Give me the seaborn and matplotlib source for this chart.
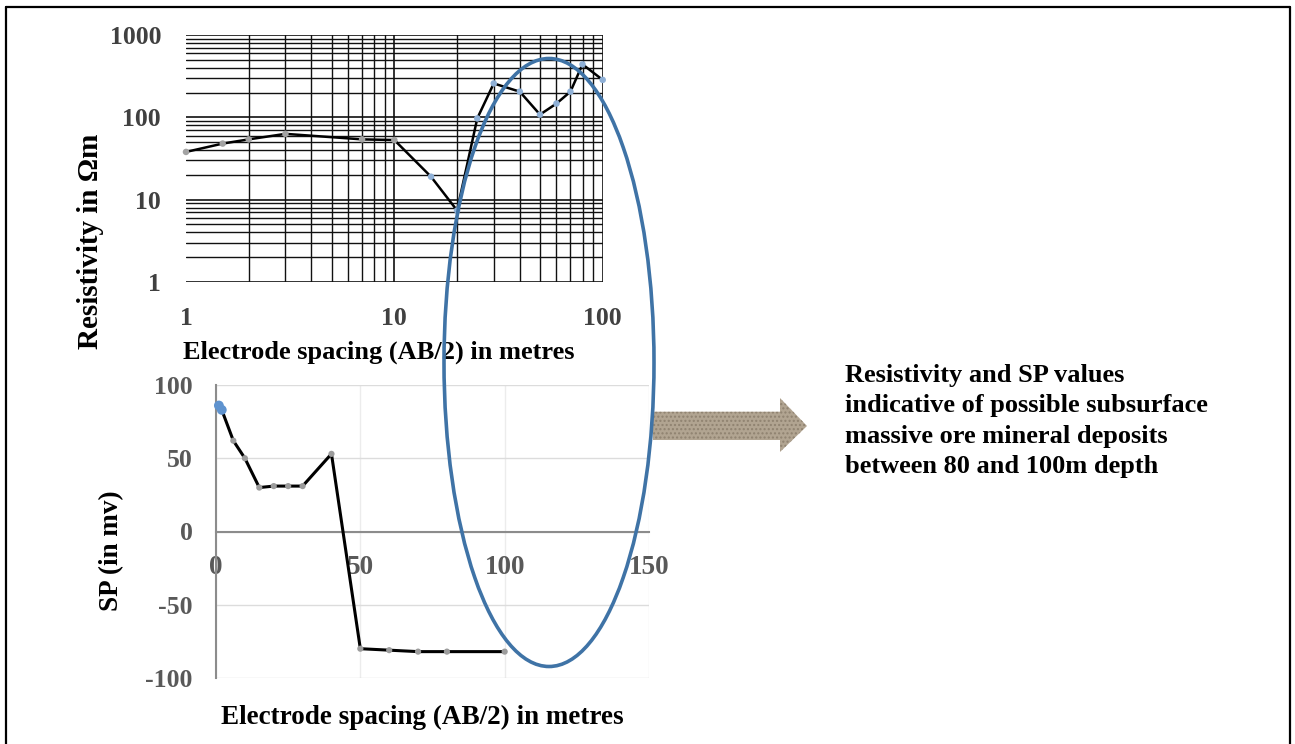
import numpy as np
import matplotlib
matplotlib.use("Agg")
import matplotlib.pyplot as plt
import matplotlib.patches as mpatches
from matplotlib.lines import Line2D
from matplotlib.ticker import LogLocator, NullFormatter
import seaborn as sns

# ---------------- data ----------------
res_x = [1, 1.5, 2, 3, 7, 10, 15, 20, 25, 30, 40, 50, 60, 70, 80, 100]
res_y = [38, 48, 54, 63, 54, 53, 19, 7.4, 97, 258, 205, 108, 147, 205, 440, 285]
res_xticks = [1, 10, 100]
res_yticks = [1, 10, 100, 1000]

sp_x = [1, 2, 6, 10, 15, 20, 25, 30, 40, 50, 60, 70, 80, 100]
sp_y = [86, 83, 62, 50, 30, 31, 31, 31, 53, -80, -81, -82, -82, -82]
sp_xticks = [0, 50, 100, 150]
sp_yticks = [-100, -50, 0, 50, 100]

res_ylabel = "Resistivity in Ωm"
sp_ylabel = "SP (in mv)"
xlabel = "Electrode spacing (AB/2) in metres"
note = ("Resistivity and SP values\n"
        "indicative of possible subsurface\n"
        "massive ore mineral deposits\n"
        "between 80 and 100m depth")

# ---------------- style ----------------
sns.set_theme(style="white")
plt.rcParams["font.family"] = ["Liberation Serif", "DejaVu Serif"]
plt.rcParams["font.weight"] = "bold"

W, H = 1295, 744
fig = plt.figure(figsize=(W / 100, H / 100), dpi=100)
fig.patch.set_facecolor("white")

def fx(px):
    return px / W

def fy(py):
    return 1 - py / H

# ---------------- top: resistivity (log-log) ----------------
ax1 = fig.add_axes([fx(186), fy(282), fx(602.7) - fx(186), fy(35) - fy(282)])
ax1.set_xscale("log")
ax1.set_yscale("log")
ax1.set_xlim(1, 100)
ax1.set_ylim(1, 1000)
sns.lineplot(x=res_x, y=res_y, ax=ax1, color="black", lw=1.8,
             estimator=None, sort=False, zorder=3)
sns.scatterplot(x=res_x[:6], y=res_y[:6], ax=ax1, color="#a3a3a3", s=22,
                edgecolor="none", zorder=4, clip_on=False)
sns.scatterplot(x=res_x[6:], y=res_y[6:], ax=ax1, color="#8fb0d6", s=22,
                edgecolor="none", zorder=4, clip_on=False)
ax1.set_xticks(res_xticks)
ax1.set_xticklabels([str(v) for v in res_xticks])
ax1.set_yticks(res_yticks)
ax1.set_yticklabels([str(v) for v in res_yticks])
ax1.xaxis.set_minor_locator(LogLocator(base=10, subs=range(2, 10)))
ax1.yaxis.set_minor_locator(LogLocator(base=10, subs=range(2, 10)))
ax1.xaxis.set_minor_formatter(NullFormatter())
ax1.yaxis.set_minor_formatter(NullFormatter())
ax1.grid(True, which="major", color="#111111", lw=1.2)
ax1.grid(True, which="minor", color="#111111", lw=1.0)
for s in ax1.spines.values():
    s.set_visible(False)
ax1.tick_params(axis="both", which="both", length=0)
ax1.tick_params(axis="y", pad=18, labelsize=18.5, labelcolor="#404040")
ax1.tick_params(axis="x", pad=18, labelsize=18.5, labelcolor="#404040")
for lab in ax1.get_xticklabels() + ax1.get_yticklabels():
    lab.set_fontweight("bold")
ax1.set_xlabel("")
ax1.set_ylabel("")
fig.canvas.draw()
ax1.xaxis.get_gridlines()[0].set_visible(False)

# ---------------- bottom: SP ----------------
ax2 = fig.add_axes([fx(216), fy(678), fx(649) - fx(216), fy(385) - fy(678)])
ax2.set_xlim(0, 150)
ax2.set_ylim(-100, 100)
sns.lineplot(x=sp_x, y=sp_y, ax=ax2, color="black", lw=2.2,
             estimator=None, sort=False, zorder=3)
sns.scatterplot(x=sp_x[:2], y=sp_y[:2], ax=ax2, color="#5f93cf", s=50,
                edgecolor="none", zorder=4, clip_on=False)
sns.scatterplot(x=sp_x[2:], y=sp_y[2:], ax=ax2, color="#9c9c9c", s=20,
                edgecolor="none", zorder=4, clip_on=False)
ax2.set_xticks(sp_xticks)
ax2.set_xticklabels([str(v) for v in sp_xticks])
ax2.set_yticks(sp_yticks)
ax2.set_yticklabels([str(v) for v in sp_yticks])
ax2.grid(True, axis="y", color="#dcdcdc", lw=1.0)
ax2.grid(True, axis="x", color="#ececec", lw=1.0)
ax2.spines["top"].set_visible(False)
ax2.spines["right"].set_visible(False)
ax2.spines["left"].set_color("#8c8c8c")
ax2.spines["left"].set_linewidth(1.5)
ax2.spines["bottom"].set_position(("data", 0))
ax2.spines["bottom"].set_color("#8c8c8c")
ax2.spines["bottom"].set_linewidth(1.5)
ax2.tick_params(axis="both", length=0)
ax2.tick_params(axis="y", pad=17, labelsize=18.5, labelcolor="#595959")
ax2.tick_params(axis="x", pad=17, labelsize=19.5, labelcolor="#595959")
for lab in ax2.get_xticklabels() + ax2.get_yticklabels():
    lab.set_fontweight("bold")
ax2.set_xlabel("")
ax2.set_ylabel("")

# ---------------- axis titles ----------------
fig.text(fx(90), fy(241), res_ylabel, rotation=90, ha="center", va="center",
         fontsize=21, fontweight="bold", color="black")
fig.text(fx(379), fy(352), xlabel, ha="center", va="center",
         fontsize=19, fontweight="bold", color="black")
fig.text(fx(112), fy(551), sp_ylabel, rotation=90, ha="center", va="center",
         fontsize=19.5, fontweight="bold", color="black")
fig.text(fx(422), fy(717), xlabel, ha="center", va="center",
         fontsize=19.5, fontweight="bold", color="black")

# ---------------- annotation ----------------
fig.text(fx(845), fy(421), note, ha="left", va="center",
         fontsize=19, fontweight="bold", color="black", linespacing=1.42)

arrow_pts = [(653, 411.7), (780, 411.7), (780, 398), (807, 426),
             (780, 452), (780, 440), (653, 440)]
arrow = mpatches.Polygon([(fx(a), fy(b)) for a, b in arrow_pts], closed=True,
                         transform=fig.transFigure, facecolor="#b1a491",
                         edgecolor="#8f8270", hatch="....", lw=0, zorder=5)
fig.add_artist(arrow)

ell = mpatches.Ellipse((fx(549), fy(362.5)), width=210 / W, height=608 / H,
                       transform=fig.transFigure, fill=False,
                       edgecolor="#3f73a6", lw=2.6, zorder=10)
fig.add_artist(ell)

# ---------------- page frame ----------------
fig.add_artist(Line2D([fx(6), fx(1290)], [fy(7), fy(7)],
                      transform=fig.transFigure, color="black", lw=1.6))
fig.add_artist(Line2D([fx(6), fx(6)], [fy(7), 0],
                      transform=fig.transFigure, color="black", lw=1.6))
fig.add_artist(Line2D([fx(1290), fx(1290)], [fy(7), 0],
                      transform=fig.transFigure, color="black", lw=1.6))

fig.savefig("out.png", dpi=100)
